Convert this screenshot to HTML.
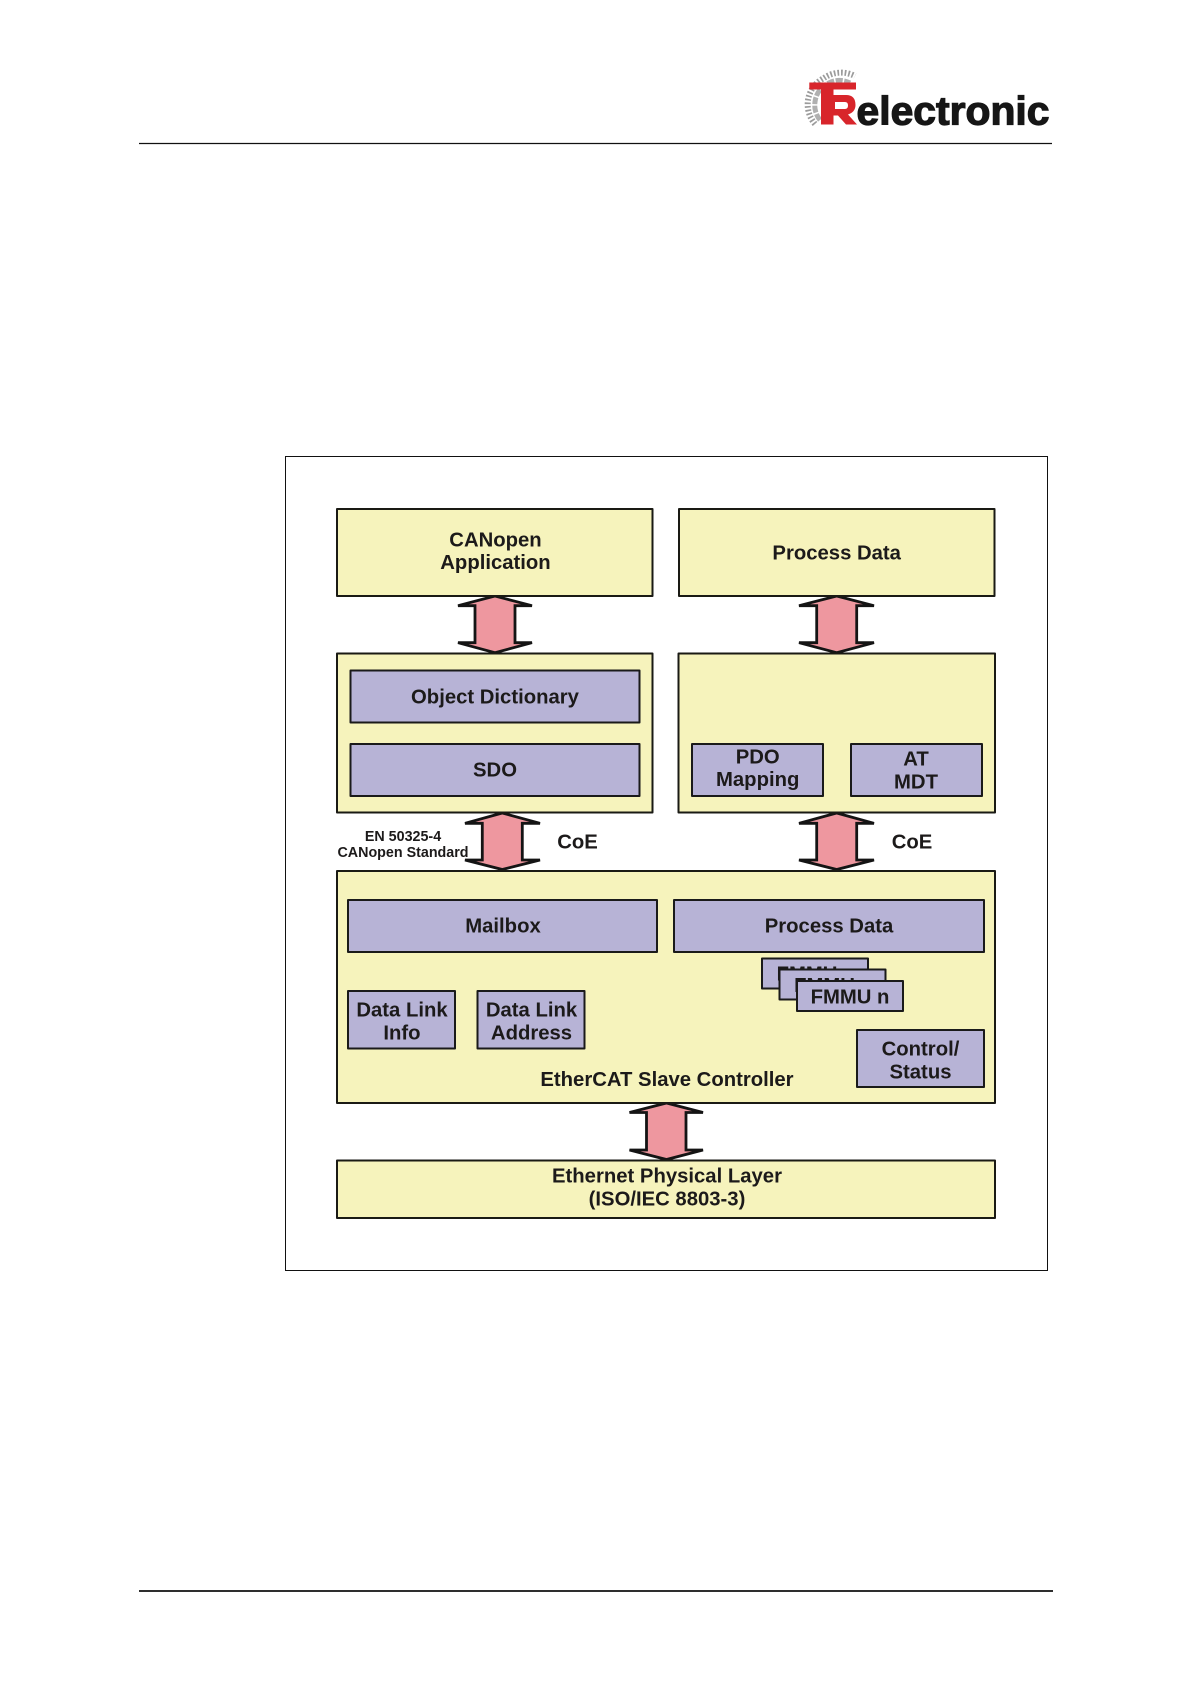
<!DOCTYPE html>
<html>
<head>
<meta charset="utf-8">
<style>
html,body{margin:0;padding:0;background:#fff;width:1190px;height:1684px;overflow:hidden}
svg{display:block;position:absolute;left:0;top:0;filter:blur(.3px)}
text{font-family:"Liberation Sans",sans-serif;font-weight:bold;font-size:20.3px;fill:#1c1a1a;text-anchor:middle}
.y{fill:#f6f3bc;stroke:#1a1a14;stroke-width:2;stroke-linejoin:round}
.p{fill:#b7b3d6;stroke:#1a1a1a;stroke-width:2;stroke-linejoin:round}
.a{fill:#ee979f;stroke:#141414;stroke-width:2.8;stroke-linejoin:miter}
</style>
</head>
<body>
<svg width="1190" height="1684" viewBox="0 0 1190 1684" xmlns="http://www.w3.org/2000/svg">
<rect width="1190" height="1684" fill="#fff"/>

<!-- header / footer -->
<line x1="139" y1="143.5" x2="1052" y2="143.5" stroke="#111" stroke-width="1.2"/>
<line x1="139" y1="1591" x2="1053" y2="1591" stroke="#111" stroke-width="1.8"/>

<!-- logo -->
<path d="M815 124 A30 30 0 0 1 808 100 A30 30 0 0 1 824 78 A30 30 0 0 1 855 76" fill="none" stroke="#9b9b9b" stroke-width="6" stroke-dasharray="1.7 1.9"/>
<path d="M820 120 A23 23 0 0 1 815 102 A23 23 0 0 1 827 84 A23 23 0 0 1 850 83" fill="none" stroke="#b0b0b0" stroke-width="5" stroke-dasharray="7 1.5"/>
<path d="M809.3 82.5H856V89.5H833.5V124.5H821V89.5H809.3Z" fill="#d8252b"/>
<path fill-rule="evenodd" d="M833 95H846Q855.5 95 855.5 105Q855.5 112 848 114.5L857 124.5H846L838 115.5H833ZM835 102V109H845Q848 109 848 105.5Q848 102 845 102Z" fill="#d8252b"/>
<text x="953" y="124.5" style="font-size:40px;fill:#161616;stroke:#161616;stroke-width:1.2" textLength="193" lengthAdjust="spacingAndGlyphs">electronic</text>

<!-- frame -->
<rect x="285.5" y="456.5" width="762" height="814" fill="#fff" stroke="#111" stroke-width="1"/>

<!-- arrows -->
<path class="a" d="M495 596L532 605.7H515V642.7H532L495 652.7L458 642.7H475V605.7H458Z"/>
<path class="a" d="M836.7 596L874 605.7H856.7V642.7H874L836.7 652.7L799 642.7H816.7V605.7H799Z"/>
<path class="a" d="M502.3 813L540 823.3H522.3V860H540L502.3 869.5L465 860H482.3V823.3H465Z"/>
<path class="a" d="M836.7 813L874 823.3H856.7V860H874L836.7 869.5L799 860H816.7V823.3H799Z"/>
<path class="a" d="M666.5 1103L703 1112.5H686V1150H703L666.5 1159.5L629.5 1150H646.5V1112.5H629.5Z"/>

<!-- top boxes -->
<rect class="y" x="337" y="509" width="315.5" height="87"/>
<text x="495.5" y="546.3">CANopen</text>
<text x="495.5" y="569">Application</text>
<rect class="y" x="679" y="509" width="315.5" height="87"/>
<text x="836.7" y="559.3">Process Data</text>

<!-- second row -->
<rect class="y" x="337" y="653.5" width="315.5" height="159"/>
<rect class="p" x="350.5" y="670.5" width="289" height="52"/>
<text x="495" y="703.3">Object Dictionary</text>
<rect class="p" x="350.5" y="744" width="289" height="52"/>
<text x="495" y="776.3">SDO</text>

<rect class="y" x="678.5" y="653.5" width="316.5" height="159"/>
<rect class="p" x="692" y="744" width="131" height="52"/>
<text x="757.7" y="763.3">PDO</text>
<text x="757.7" y="786">Mapping</text>
<rect class="p" x="851" y="744" width="131" height="52"/>
<text x="916" y="765.3">AT</text>
<text x="916" y="788.3">MDT</text>

<!-- labels -->
<text x="403" y="841" style="font-size:14.3px">EN 50325-4</text>
<text x="403" y="857" style="font-size:14.3px">CANopen Standard</text>
<text x="577.5" y="848.3">CoE</text>
<text x="912" y="848.3">CoE</text>

<!-- slave controller -->
<rect class="y" x="337" y="871" width="658" height="232"/>
<rect class="p" x="348" y="900" width="309" height="52"/>
<text x="503" y="932.3">Mailbox</text>
<rect class="p" x="674" y="900" width="310" height="52"/>
<text x="829" y="932.3">Process Data</text>

<rect class="p" x="762" y="958.5" width="106" height="30"/>
<text x="807" y="980.6">FMMU</text>
<rect class="p" x="779.5" y="969.5" width="106" height="30"/>
<text x="824.5" y="992">FMMU</text>
<rect class="p" x="797" y="981" width="106" height="30"/>
<text x="850" y="1003.3">FMMU n</text>

<rect class="p" x="348" y="991" width="107" height="57.5"/>
<text x="402" y="1016.7">Data Link</text>
<text x="402" y="1039.7">Info</text>
<rect class="p" x="477.5" y="991" width="107" height="57.5"/>
<text x="531.5" y="1016.7">Data Link</text>
<text x="531.5" y="1039.7">Address</text>

<rect class="p" x="857" y="1030" width="127" height="57"/>
<text x="920.5" y="1055.7">Control/</text>
<text x="920.5" y="1078.3">Status</text>

<text x="667" y="1086">EtherCAT Slave Controller</text>

<!-- physical layer -->
<rect class="y" x="337" y="1160.5" width="658" height="57.5"/>
<text x="667" y="1182.7">Ethernet Physical Layer</text>
<text x="667" y="1205.7">(ISO/IEC 8803-3)</text>
</svg>
</body>
</html>
